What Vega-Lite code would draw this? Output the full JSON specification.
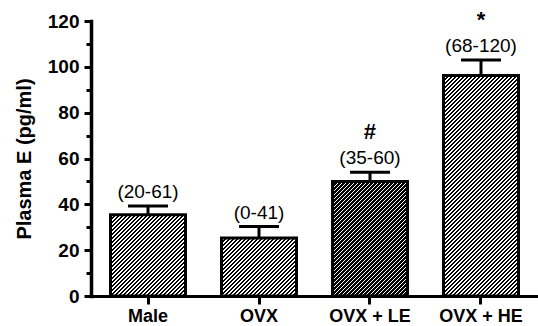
{
"$schema": "https://vega.github.io/schema/vega-lite/v6.json",
"width": 447, "height": 275,
"autosize": {"type": "none"},
"padding": {"left": 91, "top": 21, "right": 0, "bottom": 30},
"background": "white",
"params": [{"name": "hs", "value": [
{"offset":0,"color":"#000"},{"offset":0.0074,"color":"#000"},{"offset":0.0074,"color":"#fff"},{"offset":0.0135,"color":"#fff"},
{"offset":0.0135,"color":"#000"},{"offset":0.0209,"color":"#000"},{"offset":0.0209,"color":"#fff"},{"offset":0.0270,"color":"#fff"},
{"offset":0.0270,"color":"#000"},{"offset":0.0345,"color":"#000"},{"offset":0.0345,"color":"#fff"},{"offset":0.0405,"color":"#fff"},
{"offset":0.0405,"color":"#000"},{"offset":0.0480,"color":"#000"},{"offset":0.0480,"color":"#fff"},{"offset":0.0541,"color":"#fff"},
{"offset":0.0541,"color":"#000"},{"offset":0.0615,"color":"#000"},{"offset":0.0615,"color":"#fff"},{"offset":0.0676,"color":"#fff"},
{"offset":0.0676,"color":"#000"},{"offset":0.0750,"color":"#000"},{"offset":0.0750,"color":"#fff"},{"offset":0.0811,"color":"#fff"},
{"offset":0.0811,"color":"#000"},{"offset":0.0885,"color":"#000"},{"offset":0.0885,"color":"#fff"},{"offset":0.0946,"color":"#fff"},
{"offset":0.0946,"color":"#000"},{"offset":0.1020,"color":"#000"},{"offset":0.1020,"color":"#fff"},{"offset":0.1081,"color":"#fff"},
{"offset":0.1081,"color":"#000"},{"offset":0.1155,"color":"#000"},{"offset":0.1155,"color":"#fff"},{"offset":0.1216,"color":"#fff"},
{"offset":0.1216,"color":"#000"},{"offset":0.1291,"color":"#000"},{"offset":0.1291,"color":"#fff"},{"offset":0.1351,"color":"#fff"},
{"offset":0.1351,"color":"#000"},{"offset":0.1426,"color":"#000"},{"offset":0.1426,"color":"#fff"},{"offset":0.1486,"color":"#fff"},
{"offset":0.1486,"color":"#000"},{"offset":0.1561,"color":"#000"},{"offset":0.1561,"color":"#fff"},{"offset":0.1622,"color":"#fff"},
{"offset":0.1622,"color":"#000"},{"offset":0.1696,"color":"#000"},{"offset":0.1696,"color":"#fff"},{"offset":0.1757,"color":"#fff"},
{"offset":0.1757,"color":"#000"},{"offset":0.1831,"color":"#000"},{"offset":0.1831,"color":"#fff"},{"offset":0.1892,"color":"#fff"},
{"offset":0.1892,"color":"#000"},{"offset":0.1966,"color":"#000"},{"offset":0.1966,"color":"#fff"},{"offset":0.2027,"color":"#fff"},
{"offset":0.2027,"color":"#000"},{"offset":0.2101,"color":"#000"},{"offset":0.2101,"color":"#fff"},{"offset":0.2162,"color":"#fff"},
{"offset":0.2162,"color":"#000"},{"offset":0.2236,"color":"#000"},{"offset":0.2236,"color":"#fff"},{"offset":0.2297,"color":"#fff"},
{"offset":0.2297,"color":"#000"},{"offset":0.2372,"color":"#000"},{"offset":0.2372,"color":"#fff"},{"offset":0.2432,"color":"#fff"},
{"offset":0.2432,"color":"#000"},{"offset":0.2507,"color":"#000"},{"offset":0.2507,"color":"#fff"},{"offset":0.2568,"color":"#fff"},
{"offset":0.2568,"color":"#000"},{"offset":0.2642,"color":"#000"},{"offset":0.2642,"color":"#fff"},{"offset":0.2703,"color":"#fff"},
{"offset":0.2703,"color":"#000"},{"offset":0.2777,"color":"#000"},{"offset":0.2777,"color":"#fff"},{"offset":0.2838,"color":"#fff"},
{"offset":0.2838,"color":"#000"},{"offset":0.2912,"color":"#000"},{"offset":0.2912,"color":"#fff"},{"offset":0.2973,"color":"#fff"},
{"offset":0.2973,"color":"#000"},{"offset":0.3047,"color":"#000"},{"offset":0.3047,"color":"#fff"},{"offset":0.3108,"color":"#fff"},
{"offset":0.3108,"color":"#000"},{"offset":0.3182,"color":"#000"},{"offset":0.3182,"color":"#fff"},{"offset":0.3243,"color":"#fff"},
{"offset":0.3243,"color":"#000"},{"offset":0.3318,"color":"#000"},{"offset":0.3318,"color":"#fff"},{"offset":0.3378,"color":"#fff"},
{"offset":0.3378,"color":"#000"},{"offset":0.3453,"color":"#000"},{"offset":0.3453,"color":"#fff"},{"offset":0.3514,"color":"#fff"},
{"offset":0.3514,"color":"#000"},{"offset":0.3588,"color":"#000"},{"offset":0.3588,"color":"#fff"},{"offset":0.3649,"color":"#fff"},
{"offset":0.3649,"color":"#000"},{"offset":0.3723,"color":"#000"},{"offset":0.3723,"color":"#fff"},{"offset":0.3784,"color":"#fff"},
{"offset":0.3784,"color":"#000"},{"offset":0.3858,"color":"#000"},{"offset":0.3858,"color":"#fff"},{"offset":0.3919,"color":"#fff"},
{"offset":0.3919,"color":"#000"},{"offset":0.3993,"color":"#000"},{"offset":0.3993,"color":"#fff"},{"offset":0.4054,"color":"#fff"},
{"offset":0.4054,"color":"#000"},{"offset":0.4128,"color":"#000"},{"offset":0.4128,"color":"#fff"},{"offset":0.4189,"color":"#fff"},
{"offset":0.4189,"color":"#000"},{"offset":0.4264,"color":"#000"},{"offset":0.4264,"color":"#fff"},{"offset":0.4324,"color":"#fff"},
{"offset":0.4324,"color":"#000"},{"offset":0.4399,"color":"#000"},{"offset":0.4399,"color":"#fff"},{"offset":0.4459,"color":"#fff"},
{"offset":0.4459,"color":"#000"},{"offset":0.4534,"color":"#000"},{"offset":0.4534,"color":"#fff"},{"offset":0.4595,"color":"#fff"},
{"offset":0.4595,"color":"#000"},{"offset":0.4669,"color":"#000"},{"offset":0.4669,"color":"#fff"},{"offset":0.4730,"color":"#fff"},
{"offset":0.4730,"color":"#000"},{"offset":0.4804,"color":"#000"},{"offset":0.4804,"color":"#fff"},{"offset":0.4865,"color":"#fff"},
{"offset":0.4865,"color":"#000"},{"offset":0.4939,"color":"#000"},{"offset":0.4939,"color":"#fff"},{"offset":0.5000,"color":"#fff"},
{"offset":0.5000,"color":"#000"},{"offset":0.5074,"color":"#000"},{"offset":0.5074,"color":"#fff"},{"offset":0.5135,"color":"#fff"},
{"offset":0.5135,"color":"#000"},{"offset":0.5209,"color":"#000"},{"offset":0.5209,"color":"#fff"},{"offset":0.5270,"color":"#fff"},
{"offset":0.5270,"color":"#000"},{"offset":0.5345,"color":"#000"},{"offset":0.5345,"color":"#fff"},{"offset":0.5405,"color":"#fff"},
{"offset":0.5405,"color":"#000"},{"offset":0.5480,"color":"#000"},{"offset":0.5480,"color":"#fff"},{"offset":0.5541,"color":"#fff"},
{"offset":0.5541,"color":"#000"},{"offset":0.5615,"color":"#000"},{"offset":0.5615,"color":"#fff"},{"offset":0.5676,"color":"#fff"},
{"offset":0.5676,"color":"#000"},{"offset":0.5750,"color":"#000"},{"offset":0.5750,"color":"#fff"},{"offset":0.5811,"color":"#fff"},
{"offset":0.5811,"color":"#000"},{"offset":0.5885,"color":"#000"},{"offset":0.5885,"color":"#fff"},{"offset":0.5946,"color":"#fff"},
{"offset":0.5946,"color":"#000"},{"offset":0.6020,"color":"#000"},{"offset":0.6020,"color":"#fff"},{"offset":0.6081,"color":"#fff"},
{"offset":0.6081,"color":"#000"},{"offset":0.6155,"color":"#000"},{"offset":0.6155,"color":"#fff"},{"offset":0.6216,"color":"#fff"},
{"offset":0.6216,"color":"#000"},{"offset":0.6291,"color":"#000"},{"offset":0.6291,"color":"#fff"},{"offset":0.6351,"color":"#fff"},
{"offset":0.6351,"color":"#000"},{"offset":0.6426,"color":"#000"},{"offset":0.6426,"color":"#fff"},{"offset":0.6486,"color":"#fff"},
{"offset":0.6486,"color":"#000"},{"offset":0.6561,"color":"#000"},{"offset":0.6561,"color":"#fff"},{"offset":0.6622,"color":"#fff"},
{"offset":0.6622,"color":"#000"},{"offset":0.6696,"color":"#000"},{"offset":0.6696,"color":"#fff"},{"offset":0.6757,"color":"#fff"},
{"offset":0.6757,"color":"#000"},{"offset":0.6831,"color":"#000"},{"offset":0.6831,"color":"#fff"},{"offset":0.6892,"color":"#fff"},
{"offset":0.6892,"color":"#000"},{"offset":0.6966,"color":"#000"},{"offset":0.6966,"color":"#fff"},{"offset":0.7027,"color":"#fff"},
{"offset":0.7027,"color":"#000"},{"offset":0.7101,"color":"#000"},{"offset":0.7101,"color":"#fff"},{"offset":0.7162,"color":"#fff"},
{"offset":0.7162,"color":"#000"},{"offset":0.7236,"color":"#000"},{"offset":0.7236,"color":"#fff"},{"offset":0.7297,"color":"#fff"},
{"offset":0.7297,"color":"#000"},{"offset":0.7372,"color":"#000"},{"offset":0.7372,"color":"#fff"},{"offset":0.7432,"color":"#fff"},
{"offset":0.7432,"color":"#000"},{"offset":0.7507,"color":"#000"},{"offset":0.7507,"color":"#fff"},{"offset":0.7568,"color":"#fff"},
{"offset":0.7568,"color":"#000"},{"offset":0.7642,"color":"#000"},{"offset":0.7642,"color":"#fff"},{"offset":0.7703,"color":"#fff"},
{"offset":0.7703,"color":"#000"},{"offset":0.7777,"color":"#000"},{"offset":0.7777,"color":"#fff"},{"offset":0.7838,"color":"#fff"},
{"offset":0.7838,"color":"#000"},{"offset":0.7912,"color":"#000"},{"offset":0.7912,"color":"#fff"},{"offset":0.7973,"color":"#fff"},
{"offset":0.7973,"color":"#000"},{"offset":0.8047,"color":"#000"},{"offset":0.8047,"color":"#fff"},{"offset":0.8108,"color":"#fff"},
{"offset":0.8108,"color":"#000"},{"offset":0.8182,"color":"#000"},{"offset":0.8182,"color":"#fff"},{"offset":0.8243,"color":"#fff"},
{"offset":0.8243,"color":"#000"},{"offset":0.8318,"color":"#000"},{"offset":0.8318,"color":"#fff"},{"offset":0.8378,"color":"#fff"},
{"offset":0.8378,"color":"#000"},{"offset":0.8453,"color":"#000"},{"offset":0.8453,"color":"#fff"},{"offset":0.8514,"color":"#fff"},
{"offset":0.8514,"color":"#000"},{"offset":0.8588,"color":"#000"},{"offset":0.8588,"color":"#fff"},{"offset":0.8649,"color":"#fff"},
{"offset":0.8649,"color":"#000"},{"offset":0.8723,"color":"#000"},{"offset":0.8723,"color":"#fff"},{"offset":0.8784,"color":"#fff"},
{"offset":0.8784,"color":"#000"},{"offset":0.8858,"color":"#000"},{"offset":0.8858,"color":"#fff"},{"offset":0.8919,"color":"#fff"},
{"offset":0.8919,"color":"#000"},{"offset":0.8993,"color":"#000"},{"offset":0.8993,"color":"#fff"},{"offset":0.9054,"color":"#fff"},
{"offset":0.9054,"color":"#000"},{"offset":0.9128,"color":"#000"},{"offset":0.9128,"color":"#fff"},{"offset":0.9189,"color":"#fff"},
{"offset":0.9189,"color":"#000"},{"offset":0.9264,"color":"#000"},{"offset":0.9264,"color":"#fff"},{"offset":0.9324,"color":"#fff"},
{"offset":0.9324,"color":"#000"},{"offset":0.9399,"color":"#000"},{"offset":0.9399,"color":"#fff"},{"offset":0.9459,"color":"#fff"},
{"offset":0.9459,"color":"#000"},{"offset":0.9534,"color":"#000"},{"offset":0.9534,"color":"#fff"},{"offset":0.9595,"color":"#fff"},
{"offset":0.9595,"color":"#000"},{"offset":0.9669,"color":"#000"},{"offset":0.9669,"color":"#fff"},{"offset":0.9730,"color":"#fff"},
{"offset":0.9730,"color":"#000"},{"offset":0.9804,"color":"#000"},{"offset":0.9804,"color":"#fff"},{"offset":0.9865,"color":"#fff"},
{"offset":0.9865,"color":"#000"},{"offset":0.9939,"color":"#000"},{"offset":0.9939,"color":"#fff"},{"offset":1,"color":"#fff"}
]}],
"data": {"values": [
{"group": "Male", "mean": 35.5, "err": 39.3, "range": "(20-61)", "sig": ""},
{"group": "OVX", "mean": 25.3, "err": 30.3, "range": "(0-41)", "sig": ""},
{"group": "OVX + LE", "mean": 50, "err": 54, "range": "(35-60)", "sig": "#"},
{"group": "OVX + HE", "mean": 96.2, "err": 103, "range": "(68-120)", "sig": "*"}
]},
"encoding": {
  "x": {"field": "group", "type": "nominal",
    "scale": {"domain": ["Male", "OVX", "OVX + LE", "OVX + HE"], "paddingInner": 0.3243, "paddingOuter": 0.1757},
    "axis": {"title": null, "labelAngle": 0, "tickSize": 8, "labelPadding": 3, "labelFontSize": 18, "domainWidth": 3, "domainColor": "black"}},
  "y": {"field": "mean", "type": "quantitative", "scale": {"domain": [0, 120], "nice": false},
    "axis": {"title": "Plasma E (pg/ml)", "titleFontSize": 20, "titlePadding": 13,
      "domainWidth": 3.5, "domainColor": "black",
      "values": [0, 10, 20, 30, 40, 50, 60, 70, 80, 90, 100, 110, 120],
      "tickSize": {"condition": {"test": "datum.value % 20 === 0", "value": 7}, "value": 5},
      "labelExpr": "datum.value % 20 === 0 ? datum.label : ''",
      "labelPadding": 5, "labelOverlap": false, "labelFlush": false}}
},
"layer": [
  {"transform": [{"filter": "datum.group === 'Male'"}],
   "mark": {"type": "bar", "stroke": "black", "strokeWidth": 3, "fill": {"expr": "{'gradient':'linear','x1':0,'y1':0,'x2':1.8133,'y2':1.9668,'stops':hs}"}}},
  {"transform": [{"filter": "datum.group === 'OVX'"}],
   "mark": {"type": "bar", "stroke": "black", "strokeWidth": 3, "fill": {"expr": "{'gradient':'linear','x1':0,'y1':0,'x2':2.4703,'y2':1.9097,'stops':hs}"}}},
  {"transform": [{"filter": "datum.group === 'OVX + LE'"}],
   "mark": {"type": "bar", "stroke": "black", "strokeWidth": 3, "fill": {"expr": "{'gradient':'linear','x1':0,'y1':0,'x2':1.1838,'y2':1.8085,'stops':hs}"}}},
  {"transform": [{"filter": "datum.group === 'OVX + HE'"}],
   "mark": {"type": "bar", "stroke": "black", "strokeWidth": 3, "fill": {"expr": "{'gradient':'linear','x1':0,'y1':0,'x2':0.4094,'y2':1.2034,'stops':hs}"}}},
  {"mark": {"type": "rule", "stroke": "black", "strokeWidth": 3},
   "encoding": {"y2": {"field": "err"}}},
  {"mark": {"type": "tick", "color": "black", "size": 40, "thickness": 3, "opacity": 1},
   "encoding": {"y": {"field": "err", "type": "quantitative"}}},
  {"mark": {"type": "text", "dy": -8, "baseline": "alphabetic", "fontSize": 19, "font": "Liberation Sans", "color": "black"},
   "encoding": {"y": {"field": "err", "type": "quantitative"}, "text": {"field": "range"}}},
  {"mark": {"type": "text", "dy": -33, "baseline": "alphabetic", "fontSize": 22, "fontWeight": "bold", "font": "Liberation Sans", "color": "black"},
   "encoding": {"y": {"field": "err", "type": "quantitative"}, "text": {"field": "sig"}}}
],
"config": {
  "view": {"stroke": null},
  "font": "Liberation Sans",
  "axis": {"domainColor": "black", "domainWidth": 3, "domainCap": "square", "tickColor": "black", "tickWidth": 3,
    "labelColor": "black", "labelFont": "Liberation Sans", "labelFontSize": 19, "labelFontWeight": "bold",
    "titleColor": "black", "titleFont": "Liberation Sans", "titleFontWeight": "bold", "grid": false}
}
}
